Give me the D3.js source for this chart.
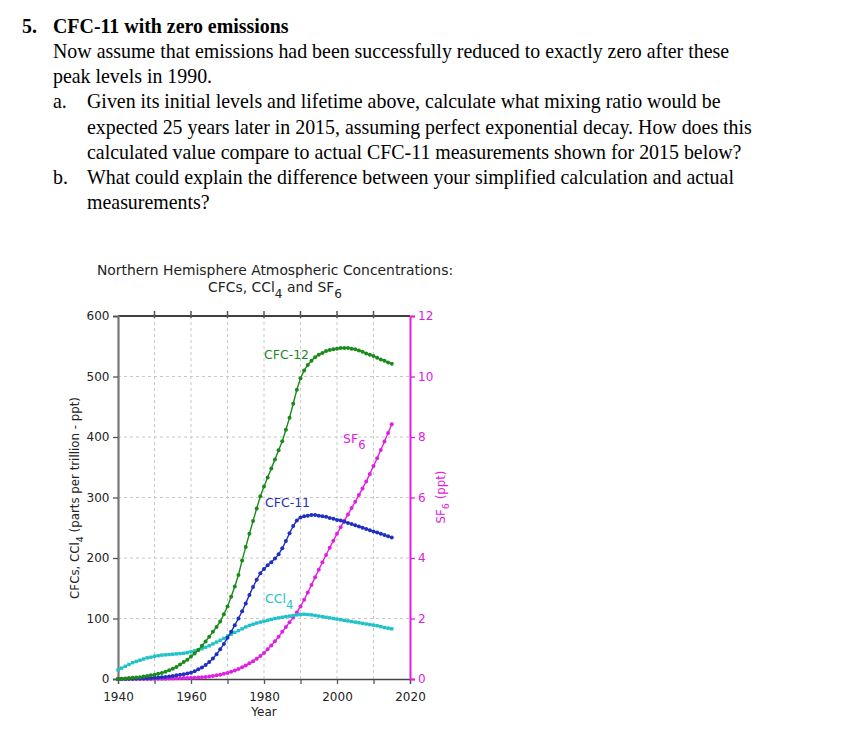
<!DOCTYPE html>
<html><head><meta charset="utf-8">
<script src="https://cdn.jsdelivr.net/npm/d3@7"></script>
<style>
html,body{margin:0;padding:0;background:#fff;}
svg{display:block;}
</style></head>
<body>
<svg id="c" width="849" height="732"></svg>
<script>
const years = d3.range(1940, 2016);
const cfc12 = [0,0.5,1,1.5,2,2.5,3,4,5,6,
7,8.5,10,12,14.5,17,20,24,28,32,
37,42,48,55,62,70,78,86,95,107,
120,136,153,172,196,218,240,261,282,302,
318,333,348,363,378,393,412,432,455,478,
497,510,519,526,532,536,539,542,544,545,
546,547,547,547,546,545,543,541,538,536,
534,531,528,526,523,521];
const cfc11 = [0,0,0.2,0.4,0.6,0.8,1,1.2,1.4,1.7,
2,2.4,2.9,3.5,4.2,5,6,7,8,9,
10.5,13,16,19,23,28,34,41,49,58,
68,78,89,100,112,125,139,152,164,175,
182,188,193,199,206,216,228,241,253,262,
267,269,270,271,271,270,269,268,266,265,
263,262,260,258,256,254,252,250,248,246,
244,242,240,238,236,234];
const ccl4 = [15,18,21,24,27,29,31,33,35,36,
37.5,38.5,39.5,40,40.5,41,41.5,42,42.5,43.5,
45,46.5,48,50,52.5,55,58,61,64,67,
71,74,77,80,83,86,88.5,90.5,92.5,94,
95.5,97,98.5,100,101,102,103,104,105,106,
106.5,107,106.5,106,105,104,103,102,101,100,
99,98,97,96,95,94,93,92,91,90,
89,88,86.5,85,84,83];
const sf6 = [0,0,0,0,0,0,0,0,0,0,
0.005,0.007,0.01,0.012,0.015,0.018,0.021,0.025,0.03,0.035,
0.04,0.045,0.05,0.06,0.07,0.08,0.1,0.12,0.14,0.17,
0.2,0.24,0.28,0.33,0.39,0.45,0.52,0.59,0.67,0.76,
0.86,0.98,1.11,1.25,1.40,1.56,1.72,1.88,2.03,2.20,
2.40,2.62,2.86,3.11,3.36,3.61,3.86,4.10,4.34,4.57,
4.80,5.02,5.23,5.44,5.65,5.86,6.08,6.30,6.53,6.78,
7.04,7.30,7.57,7.85,8.13,8.42];
const xTickLabels = [1940,1960,1980,2000,2020];
const xGridYears = [1950,1960,1970,1980,1990,2000,2010];
const leftTicks = [0,100,200,300,400,500,600];
const rightTicks = [0,2,4,6,8,10,12];

const questionLines = [
  {x:53, label:"", text:"Now assume that emissions had been successfully reduced to exactly zero after these"},
  {x:53, label:"", text:"peak levels in 1990."},
  {x:87, label:"a.", text:"Given its initial levels and lifetime above, calculate what mixing ratio would be"},
  {x:87, label:"", text:"expected 25 years later in 2015, assuming perfect exponential decay. How does this"},
  {x:87, label:"", text:"calculated value compare to actual CFC-11 measurements shown for 2015 below?"},
  {x:87, label:"b.", text:"What could explain the difference between your simplified calculation and actual"},
  {x:87, label:"", text:"measurements?"}
];

const C = {green:"#1b8a1b", blue:"#1f2fc0", cyan:"#20c2c8", mag:"#e020e0"};

const svg = d3.select("#c");
const serif = "'Liberation Serif','Times New Roman',serif";
const sans = "'DejaVu Sans',Verdana,sans-serif";

// Question text
svg.append("text").attr("x",22).attr("y",33).attr("font-family",serif).attr("font-size",19.9).attr("font-weight","bold").text("5.");
svg.append("text").attr("x",53).attr("y",33).attr("font-family",serif).attr("font-size",19.9).attr("font-weight","bold").text("CFC-11 with zero emissions");
questionLines.forEach((l,i)=>{
  const y = 58 + i*25.2;
  if(l.label) svg.append("text").attr("x",53).attr("y",y).attr("font-family",serif).attr("font-size",19.9).text(l.label);
  svg.append("text").attr("x",l.x).attr("y",y).attr("font-family",serif).attr("font-size",19.9).text(l.text);
});

// Chart
const x = d3.scaleLinear().domain([1940,2020]).range([118,410]);
const y = d3.scaleLinear().domain([0,600]).range([679,316]);
const y2 = d3.scaleLinear().domain([0,12]).range([679,316]);

const g = svg.append("g");
// grid
g.selectAll(".vg").data(xGridYears).enter().append("line")
 .attr("x1",d=>x(d)).attr("x2",d=>x(d)).attr("y1",y(600)).attr("y2",y(0))
 .attr("stroke","#c8c8c8").attr("stroke-dasharray","3,3").attr("stroke-width",1);
g.selectAll(".hg").data([100,200,300,400,500]).enter().append("line")
 .attr("x1",x(1940)).attr("x2",x(2020)).attr("y1",d=>y(d)).attr("y2",d=>y(d))
 .attr("stroke","#c8c8c8").attr("stroke-dasharray","3,3").attr("stroke-width",1);

// top frame line with ticks
g.append("line").attr("x1",x(1940)).attr("x2",x(2020)).attr("y1",y(600)).attr("y2",y(600)).attr("stroke","#000").attr("stroke-width",1.3);
g.selectAll(".tt").data(xGridYears).enter().append("line")
 .attr("x1",d=>x(d)).attr("x2",d=>x(d)).attr("y1",y(600)-5).attr("y2",y(600)+2)
 .attr("stroke","#555").attr("stroke-width",1.5);

// bottom axis
const xAxis = d3.axisBottom(x).tickValues(d3.range(1940,2021,10)).tickSize(5)
  .tickFormat(d=> xTickLabels.includes(d)? String(d):"");
const gx = g.append("g").attr("transform",`translate(0,${y(0)})`).call(xAxis);
gx.select(".domain").attr("stroke","#444").attr("stroke-width",1.3);
gx.selectAll(".tick line").attr("stroke","#555").attr("stroke-width",1.3);
gx.selectAll("text").attr("font-family",sans).attr("font-size",12).attr("fill","#222").attr("dy","1.15em");

// left axis
const yAxis = d3.axisLeft(y).tickValues(leftTicks).tickSize(5).tickFormat(d3.format("d"));
const gy = g.append("g").attr("transform",`translate(${x(1940)},0)`).call(yAxis);
gy.select(".domain").attr("stroke","#777").attr("stroke-width",2.2);
gy.selectAll(".tick line").attr("stroke","#555").attr("stroke-width",1.3);
gy.selectAll("text").attr("font-family",sans).attr("font-size",12).attr("fill","#222").attr("dx","-0.05em");

// right axis
const y2Axis = d3.axisRight(y2).tickValues(rightTicks).tickSize(5).tickFormat(d3.format("d"));
const gy2 = g.append("g").attr("transform",`translate(${x(2020)},0)`).call(y2Axis);
gy2.select(".domain").attr("stroke",C.mag).attr("stroke-width",2);
gy2.selectAll(".tick line").attr("stroke",C.mag).attr("stroke-width",1.3);
gy2.selectAll("text").attr("font-family",sans).attr("font-size",12).attr("fill",C.mag);

// series
function series(vals, scale, color, r, sq){
  const pts = years.map((yr,i)=>[x(yr), scale(vals[i])]);
  g.append("path").attr("d",d3.line()(pts)).attr("fill","none").attr("stroke",color).attr("stroke-width",1.4);
  if(sq){
    g.selectAll(null).data(pts).enter().append("rect")
     .attr("x",d=>d[0]-r).attr("y",d=>d[1]-r).attr("width",2*r).attr("height",2*r).attr("fill",color);
  } else {
    g.selectAll(null).data(pts).enter().append("circle")
     .attr("cx",d=>d[0]).attr("cy",d=>d[1]).attr("r",r).attr("fill",color);
  }
}
series(sf6, y2, C.mag, 2, false);
series(ccl4, y, C.cyan, 1.7, true);
series(cfc11, y, C.blue, 2, false);
series(cfc12, y, C.green, 2, false);

// series labels
function lab(xp, yp, color, main, sub){
  const t = g.append("text").attr("x",xp).attr("y",yp).attr("font-family",sans).attr("font-size",12.5).attr("fill",color).text(main);
  if(sub) t.append("tspan").attr("dy",6).attr("font-size",11.5).text(sub);
}
lab(264, 359, C.green, "CFC-12");
lab(343, 443, C.mag, "SF", "6");
lab(265, 507, C.blue, "CFC-11");
lab(265, 603, C.cyan, "CCl", "4");

// titles
const title = g.append("text").attr("x",275).attr("y",275).attr("text-anchor","middle").attr("font-family",sans).attr("font-size",13.9).attr("fill","#222");
title.text("Northern Hemisphere Atmospheric Concentrations:");
const t2 = g.append("text").attr("x",275).attr("y",292).attr("text-anchor","middle").attr("font-family",sans).attr("font-size",13.9).attr("fill","#222");
t2.append("tspan").text("CFCs, CCl");
t2.append("tspan").attr("dy",6).attr("font-size",12).text("4");
t2.append("tspan").attr("dy",-6).text(" and SF");
t2.append("tspan").attr("dy",6).attr("font-size",12).text("6");

g.append("text").attr("x",264).attr("y",716).attr("text-anchor","middle").attr("font-family",sans).attr("font-size",12).attr("fill","#222").text("Year");

const lt = g.append("text").attr("transform",`translate(79,498) rotate(-90)`).attr("text-anchor","middle").attr("font-family",sans).attr("font-size",11.8).attr("fill","#222");
lt.append("tspan").text("CFCs, CCl");
lt.append("tspan").attr("dy",4).attr("font-size",9.5).text("4");
lt.append("tspan").attr("dy",-4).text(" (parts per trillion - ppt)");

const rt = g.append("text").attr("transform",`translate(445,497) rotate(-90)`).attr("text-anchor","middle").attr("font-family",sans).attr("font-size",11.8).attr("fill",C.mag);
rt.append("tspan").text("SF");
rt.append("tspan").attr("dy",4).attr("font-size",9.5).text("6");
rt.append("tspan").attr("dy",-4).text(" (ppt)");
</script>
</body></html>
